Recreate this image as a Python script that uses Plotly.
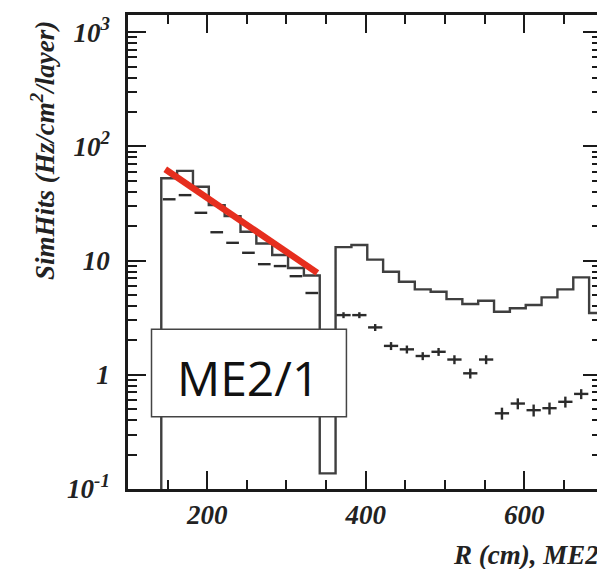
import plotly.graph_objects as go

# ---- data ----
bin_centers = [152, 172, 192, 212, 232, 252, 272, 292, 312, 332,
               352,
               372, 392, 412, 432, 452, 472, 492, 512, 532, 552,
               572, 592, 612, 632, 652, 672, 692]
hist_values = [52.5, 61.0, 44.3, 30.6, 24.5, 17.9, 14.1, 11.2, 8.6, 7.4,
               0.137,
               13.1, 13.7, 10.2, 7.98, 6.53, 5.6, 5.33, 4.6, 4.16, 4.45,
               3.56, 3.82, 4.08, 4.76, 5.6, 7.13, 3.47]

me21_x = [152, 172, 192, 212, 232, 252, 272, 292, 312, 332]
me21_y = [34.4, 37.4, 26.2, 17.7, 14.3, 11.7, 9.3, 8.95, 7.3, 5.2]

me22_x = [372, 392, 412, 432, 452, 472, 492, 512, 532, 552,
          572, 592, 612, 632, 652, 672]
me22_y = [3.33, 3.33, 2.6, 1.79, 1.67, 1.46, 1.59, 1.36, 1.03, 1.36,
          0.46, 0.56, 0.49, 0.51, 0.58, 0.68]
me22_rel_err = [0.06, 0.06, 0.07, 0.08, 0.08, 0.08, 0.08, 0.09, 0.10, 0.09,
                0.12, 0.11, 0.12, 0.12, 0.11, 0.10]

fit_x = [147, 339]
fit_y = [63.0, 7.8]

y_tickvals = [0.1, 1, 10, 100, 1000]
y_ticktext = ["10<sup>-1</sup>", "1", "10", "10<sup>2</sup>", "10<sup>3</sup>"]
x_tickvals = [200, 400, 600]
x_ticktext = ["200", "400", "600"]

# ---- build figure ----
HALF = 10
FLOOR = 0.01
hx, hy = [bin_centers[0] - HALF], [FLOOR]
for c, v in zip(bin_centers, hist_values):
    hx += [c - HALF, c + HALF]
    hy += [v, v]

INK = "#2b2b2b"
err22 = [v * r for v, r in zip(me22_y, me22_rel_err)]

fig = go.Figure()
fig.add_trace(go.Scatter(x=hx, y=hy, mode="lines",
                         line=dict(color="#3f3f3f", width=2.4),
                         showlegend=False, hoverinfo="skip"))
fig.add_trace(go.Scatter(x=me21_x, y=me21_y, mode="markers",
                         marker=dict(size=1, color=INK),
                         error_x=dict(type="constant", value=8, color=INK,
                                      thickness=2.4, width=0),
                         showlegend=False))
fig.add_trace(go.Scatter(x=me22_x, y=me22_y, mode="markers",
                         marker=dict(size=2, color=INK),
                         error_x=dict(type="constant", value=9, color=INK,
                                      thickness=2.4, width=0),
                         error_y=dict(type="data", symmetric=False,
                                      array=err22, arrayminus=err22,
                                      color=INK, thickness=2.4, width=0),
                         showlegend=False))
fig.add_trace(go.Scatter(x=fit_x, y=fit_y, mode="lines",
                         line=dict(color="#e62e1e", width=6.5),
                         showlegend=False))

minor_y = [k * 10 ** d for d in (-1, 0, 1, 2) for k in range(2, 10)]

tickfont = dict(family="Liberation Serif", size=27, color="#222",
                weight="bold", style="italic")

fig.update_xaxes(type="linear", range=[100, 697],
                 tickvals=x_tickvals, ticktext=x_ticktext,
                 ticks="inside", ticklen=18, tickwidth=2, tickcolor="#1a1a1a",
                 minor=dict(ticks="inside", ticklen=9, dtick=50, tick0=0,
                            tickwidth=2, tickcolor="#1a1a1a", showgrid=False),
                 showline=True, linewidth=2.5, linecolor="#1a1a1a", mirror="ticks",
                 showgrid=False, zeroline=False, tickfont=tickfont,
                 ticklabelstandoff=0)
fig.update_yaxes(type="log", range=[-1, 3.15],
                 tickvals=y_tickvals, ticktext=y_ticktext,
                 ticks="inside", ticklen=18, tickwidth=2, tickcolor="#1a1a1a",
                 minor=dict(ticks="inside", ticklen=9, tickvals=minor_y,
                            tickwidth=2, tickcolor="#1a1a1a", showgrid=False),
                 showline=True, linewidth=2.5, linecolor="#1a1a1a", mirror="ticks",
                 showgrid=False, zeroline=False, tickfont=tickfont,
                 ticklabelstandoff=10)

titlefont = dict(family="Liberation Serif", size=27, color="#222",
                 weight="bold", style="italic")
fig.add_annotation(xref="paper", yref="paper", x=1.0, y=-0.139,
                   xanchor="right", yanchor="middle", showarrow=False,
                   text="R (cm), ME2", font=titlefont)
fig.add_annotation(xref="paper", yref="paper", x=-0.18, y=0.715,
                   xanchor="center", yanchor="middle", showarrow=False,
                   textangle=-90, text="SimHits (Hz/cm<sup>2</sup>/layer)",
                   font=titlefont)

# ME2/1 label box
fig.add_shape(type="rect", xref="paper", yref="paper",
              x0=0.0497, x1=0.4618, y0=0.1525, y1=0.337,
              fillcolor="white", line=dict(color="#444", width=1.5), layer="above")
fig.add_annotation(xref="paper", yref="paper", x=0.2537, y=0.236,
                   xanchor="center", yanchor="middle", showarrow=False,
                   text="ME2/1", font=dict(family="Open Sans", size=48, color="#111"))

# faint yellow strip at the top of the slide
fig.add_shape(type="rect", xref="paper", yref="paper",
              x0=-0.3, x1=1.05, y0=1.026, y1=1.04,
              fillcolor="#fbf3b5", line=dict(width=0), layer="above")

# the page body adds an 8 px offset, so the figure is shrunk by that amount
fig.update_layout(width=597, height=561,
                  margin=dict(l=120, r=1, t=7, b=80),
                  paper_bgcolor="white", plot_bgcolor="white")

fig.write_html("out.html")
